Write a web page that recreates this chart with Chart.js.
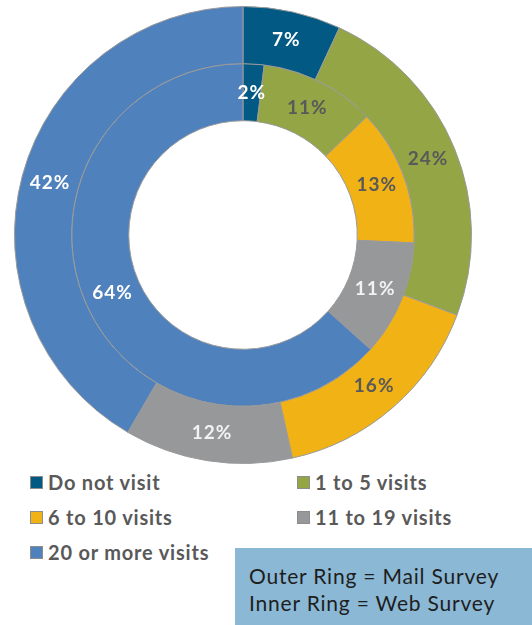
<!DOCTYPE html>
<html>
<head>
<meta charset="utf-8">
<script src="https://cdn.jsdelivr.net/npm/chart.js@4"></script>
<style>
  html, body { margin: 0; padding: 0; background: #fff; }
  #wrap { position: relative; width: 532px; height: 625px; overflow: hidden; font-family: "Lato", "Open Sans", sans-serif; }
  #myChart { position: absolute; left: 0; top: 0; }
  .legend { position: absolute; left: 0; top: 470px; width: 532px; }
  .legend div { position: absolute; font-weight: bold; font-size: 20px; letter-spacing: 0.8px; color: #595959; white-space: nowrap; line-height: 24px; }
  .legend span { display: inline-block; width: 11px; height: 11px; border: 1.5px solid #8c8c8c; margin-right: 5px; vertical-align: 1px; }
  .note { position: absolute; left: 235px; top: 548px; width: 297px; height: 77px; background: #8bb8d4; color: #1e1e1e; font-size: 21px; letter-spacing: 0.8px; line-height: 27px; box-sizing: border-box; padding: 14px 0 0 14px; white-space: nowrap; }
</style>
</head>
<body>
<div id="wrap">
  <canvas id="myChart" width="532" height="470"></canvas>
  <div class="legend" id="legend"></div>
  <div class="note">Outer Ring = Mail Survey<br>Inner Ring = Web Survey</div>
</div>
<script>
var categories = ['Do not visit', '1 to 5 visits', '6 to 10 visits', '11 to 19 visits', '20 or more visits']
var mailSurvey = [7, 24, 16, 12, 42]
var webSurvey = [2, 11, 13, 11, 64]
var colors = ['#025a84', '#93a545', '#f0b214', '#97989a', '#4f81bd']
var labelColors = ['#ffffff', '#595959', '#595959', '#f2f2f2', '#ffffff']

// percent labels at the middle of every slice
var sliceLabels = {
  id: 'sliceLabels',
  afterDatasetsDraw: function (chart) {
    var ctx = chart.ctx
    ctx.save()
    ctx.font = 'bold 19px Lato, "Open Sans", sans-serif'
    ctx.letterSpacing = '1px'
    ctx.textAlign = 'center'
    ctx.textBaseline = 'middle'
    chart.data.datasets.forEach(function (ds, i) {
      chart.getDatasetMeta(i).data.forEach(function (arc, j) {
        var p = arc.tooltipPosition()
        ctx.fillStyle = labelColors[j]
        ctx.fillText(ds.data[j] + '%', p.x, p.y)
      })
    })
    ctx.restore()
  }
}

var ctx = document.getElementById('myChart').getContext('2d')
var myChart = new Chart(ctx, {
  type: 'doughnut',
  data: {
    labels: categories,
    datasets: [{
      label: 'Mail Survey',
      data: mailSurvey,
      backgroundColor: colors,
      borderColor: '#9a9a9a',
      borderWidth: 1
    }, {
      label: 'Web Survey',
      data: webSurvey,
      backgroundColor: colors,
      borderColor: '#9a9a9a',
      borderWidth: 1
    }]
  },
  options: {
    responsive: false,
    animation: false,
    cutout: '50%',
    layout: { padding: { top: 6, bottom: 6, left: 0, right: 46 } },
    plugins: {
      legend: { display: false },
      tooltip: { enabled: false }
    }
  },
  plugins: [sliceLabels]
})

// two column legend under the rings
var spots = [[30, 0], [297, 0], [30, 35], [297, 35], [30, 70]]
var legend = document.getElementById('legend')
categories.forEach(function (name, i) {
  var item = document.createElement('div')
  item.style.left = spots[i][0] + 'px'
  item.style.top = spots[i][1] + 'px'
  item.innerHTML = '<span style="background:' + colors[i] + '"></span>' + name
  legend.appendChild(item)
})
</script>
</body>
</html>
